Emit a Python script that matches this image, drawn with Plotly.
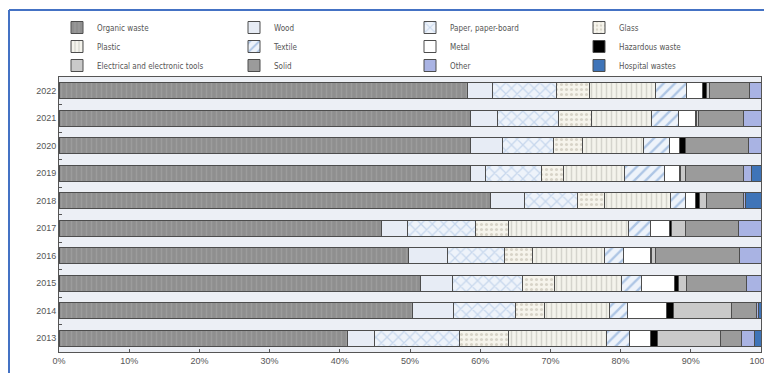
import plotly.graph_objects as go

years = ["2022", "2021", "2020", "2019", "2018", "2017", "2016", "2015", "2014", "2013"]

organic    = [58.2, 58.6, 58.6, 58.6, 61.4, 45.9, 49.8, 51.5, 50.3, 41.1]
wood       = [3.5, 3.9, 4.6, 2.2, 4.9, 3.8, 5.6, 4.5, 5.9, 3.8]
paper      = [9.2, 8.6, 7.2, 7.9, 7.6, 9.7, 8.1, 10.0, 8.8, 12.2]
glass      = [4.7, 4.7, 4.2, 3.1, 3.8, 4.7, 3.9, 4.6, 4.2, 6.9]
plastic    = [9.3, 8.6, 8.6, 8.8, 9.4, 17.0, 10.3, 9.5, 9.2, 14.0]
textile    = [4.5, 3.9, 3.8, 5.7, 2.2, 3.1, 2.7, 2.9, 2.6, 3.2]
metal      = [2.3, 2.3, 1.4, 2.1, 1.4, 2.8, 3.8, 4.7, 5.6, 3.1]
hazardous  = [0.5, 0.2, 0.9, 0.2, 0.5, 0.2, 0.2, 0.6, 0.9, 0.9]
electrical = [0.5, 0.3, 0.0, 0.7, 1.0, 2.0, 0.5, 1.1, 8.3, 9.0]
solid      = [5.6, 6.4, 8.9, 8.2, 5.3, 7.6, 12.1, 8.6, 3.5, 3.0]
other      = [1.7, 2.5, 1.8, 1.2, 0.3, 3.2, 3.0, 2.0, 0.4, 1.9]
hospital   = [0.0, 0.0, 0.0, 1.3, 2.2, 0.0, 0.0, 0.0, 0.3, 0.9]

tick_vals = [0, 10, 20, 30, 40, 50, 60, 70, 80, 90, 100]
tick_text = ["0%", "10%", "20%", "30%", "40%", "50%", "60%", "70%", "80%", "90%", "100%"]

# name, values, base colour, pattern shape, pattern fg, legend column
series = [
    ("Organic waste", organic, "#8f8f8f", "|", "#a9a9a9", "legend"),
    ("Wood", wood, "#e7ecf5", "", None, "legend2"),
    ("Paper, paper-board", paper, "#eef3fa", "x", "#9fbbe0", "legend3"),
    ("Glass", glass, "#f6f4ec", ".", "#b9b4a4", "legend4"),
    ("Plastic", plastic, "#f4f3ec", "|", "#b5b5ad", "legend"),
    ("Textile", textile, "#eef3fa", "/", "#6d98cf", "legend2"),
    ("Metal", metal, "#ffffff", "", None, "legend3"),
    ("Hazardous waste", hazardous, "#000000", "", None, "legend4"),
    ("Electrical and electronic tools", electrical, "#c9c9c9", "", None, "legend"),
    ("Solid", solid, "#9b9b9b", "", None, "legend2"),
    ("Other", other, "#a9b3e3", "", None, "legend3"),
    ("Hospital wastes", hospital, "#3f74b8", "", None, "legend4"),
]

fig = go.Figure()
for name, vals, col, shp, fg, leg in series:
    marker = dict(color=col, line=dict(color="#4d4d4d", width=1))
    if shp:
        marker["pattern"] = dict(shape=shp, fgcolor=fg, bgcolor=col, size=5 if shp in ("|", ".") else 8,
                                 solidity=0.3, fillmode="overlay")
    fig.add_trace(go.Bar(
        y=years, x=vals, name=name, orientation="h", marker=marker, legend=leg,
    ))

# the page body adds an 8 px offset; lay out in page pixels and convert
OFF = 8
W, H = 772 - OFF, 373 - OFF
PL, PR, PT, PB = 59, 761, 77, 352  # plot area edges in page pixels
L, R, T, B = PL - OFF, W - (PR - OFF), PT - OFF, H - (PB - OFF)
pw, ph = W - L - R, H - T - B


def px(x):
    return (x - PL) / pw


def py(y):
    return (PB - y) / ph


leg_font = dict(family="Liberation Sans Narrow, DejaVu Sans Condensed, Arial Narrow, sans-serif",
                size=8, color="#555555")
leg_common = dict(orientation="v", yanchor="top", xanchor="left", y=py(13), font=leg_font,
                  bgcolor="rgba(0,0,0,0)", tracegroupgap=0, itemclick=False,
                  traceorder="normal")

fig.update_layout(
    width=W, height=H,
    margin=dict(l=L, r=R, t=T, b=B, autoexpand=False),
    barmode="stack",
    bargap=0.42,
    paper_bgcolor="white",
    plot_bgcolor="#eceff5",
    font=dict(family="Liberation Sans, Arial, sans-serif", size=9, color="#555555"),
    showlegend=True,
    legend=dict(x=px(57), **leg_common),
    legend2=dict(x=px(234), **leg_common),
    legend3=dict(x=px(410), **leg_common),
    legend4=dict(x=px(579), **leg_common),
    xaxis=dict(range=[0, 100], tickvals=tick_vals, ticktext=tick_text, showgrid=False,
               zeroline=False, showline=True, linecolor="#555555", linewidth=1, mirror=True,
               ticks="inside", ticklen=3, tickcolor="#555555", ticklabeloverflow="allow",
               tickfont=dict(size=9, color="#555555"), fixedrange=True),
    yaxis=dict(autorange="reversed", showgrid=False, showline=True, linecolor="#555555",
               linewidth=1, mirror=True, ticks="inside", ticklen=3, tickcolor="#555555",
               tickson="boundaries", tickfont=dict(size=9, color="#555555"), fixedrange=True),
    shapes=[
        dict(type="line", xref="paper", yref="paper", x0=px(9), x1=px(9), y0=py(10), y1=py(380),
             line=dict(color="#4472c4", width=2)),
        dict(type="line", xref="paper", yref="paper", x0=px(9), x1=px(775), y0=py(10), y1=py(10),
             line=dict(color="#4472c4", width=2)),
    ],
)

fig.write_html("out.html")
